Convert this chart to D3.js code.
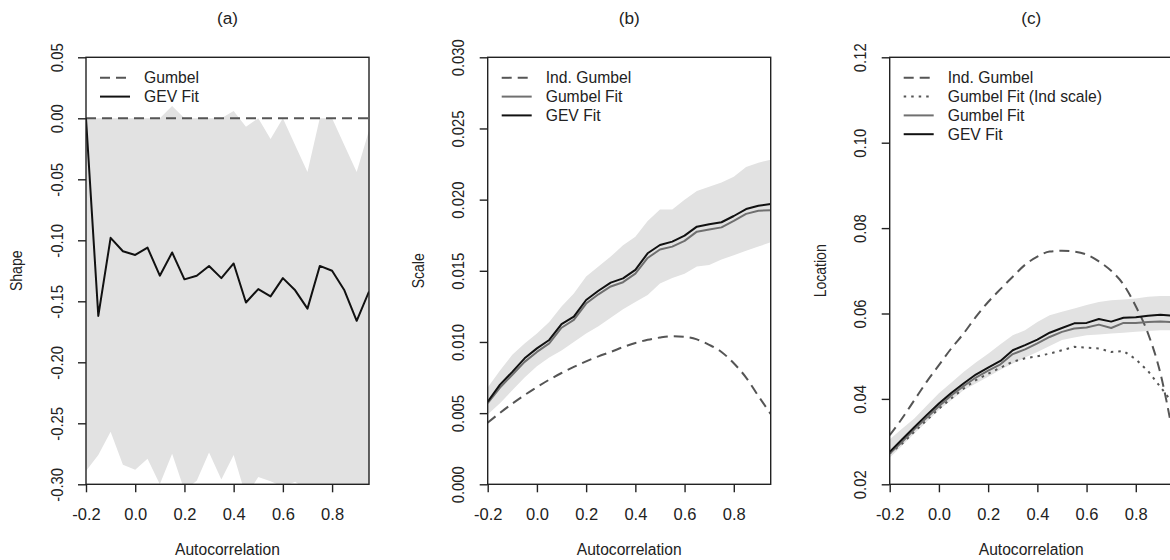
<!DOCTYPE html>
<html>
<head>
<meta charset="utf-8">
<script src="https://cdn.jsdelivr.net/npm/d3@7"></script>
<style>
  html, body { margin: 0; padding: 0; background: #fff; }
  svg { display: block; }
  text { font-family: "Liberation Sans", Arial, Helvetica, sans-serif; fill: #222; }
</style>
</head>
<body>
<svg id="chart" width="1170" height="560"></svg>
<script>
// Autocorrelation grid shared by all three panels
const autocorr = [-0.20, -0.15, -0.10, -0.05, 0.00, 0.05, 0.10, 0.15, 0.20, 0.25, 0.30, 0.35,
                  0.40, 0.45, 0.50, 0.55, 0.60, 0.65, 0.70, 0.75, 0.80, 0.85, 0.90, 0.95];
const xTicks = [-0.2, 0.0, 0.2, 0.4, 0.6, 0.8];

// (a) Shape
const shapeGumbel = 0;
const shapeGEV = [0.000, -0.162, -0.098, -0.109, -0.112, -0.106, -0.129, -0.110, -0.132, -0.129, -0.121, -0.131,
                  -0.119, -0.151, -0.140, -0.146, -0.131, -0.141, -0.156, -0.121, -0.125, -0.141, -0.166, -0.142];
const shapeUpper = [0.000, 0.000, 0.000, 0.000, 0.000, 0.000, 0.000, 0.010, 0.000, 0.000, 0.000, 0.000,
                    0.006, -0.007, 0.000, -0.017, 0.000, -0.022, -0.044, 0.000, 0.000, -0.022, -0.044, -0.010];
const shapeLower = [-0.289, -0.276, -0.257, -0.284, -0.288, -0.279, -0.300, -0.275, -0.305, -0.297, -0.274, -0.296,
                    -0.276, -0.310, -0.294, -0.2975, -0.302, -0.298, -0.305, -0.305, -0.300, -0.305, -0.305, -0.305];
const shapeTicks = [0.05, 0.00, -0.05, -0.10, -0.15, -0.20, -0.25, -0.30];

// (b) Scale
const scaleIndGumbel = [0.00433, 0.00502, 0.00567, 0.00627, 0.00683, 0.00735, 0.00782, 0.00825, 0.00864, 0.00899, 0.00930, 0.00964,
                        0.00993, 0.01015, 0.01031, 0.01040, 0.01036, 0.01018, 0.00980, 0.00930, 0.00850, 0.00750, 0.00620, 0.00494];
const scaleGumbelFit = [0.0057, 0.0068, 0.0077, 0.0086, 0.0093, 0.0099, 0.0110, 0.01155, 0.0127, 0.01335, 0.0139, 0.0142,
                        0.0148, 0.0159, 0.0165, 0.0167, 0.0171, 0.01775, 0.0179, 0.01805, 0.0185, 0.0190, 0.01922, 0.01925];
const scaleGEV = [0.0058, 0.0070, 0.0079, 0.00885, 0.00955, 0.01014, 0.01126, 0.01178, 0.01295, 0.0136, 0.01417, 0.01447,
                  0.01506, 0.01623, 0.01681, 0.01705, 0.01747, 0.0181, 0.01827, 0.01841, 0.01885, 0.01934, 0.01957, 0.01969];
const scaleUpper = [0.0068, 0.0080, 0.0091, 0.0099, 0.0106, 0.0114, 0.0125, 0.0134, 0.0146, 0.0153, 0.0160, 0.0168,
                    0.0174, 0.0185, 0.0193, 0.0193, 0.0200, 0.0206, 0.0209, 0.0212, 0.0216, 0.0223, 0.0226, 0.0228];
const scaleLower = [0.0049, 0.0057, 0.0066, 0.0075, 0.0083, 0.0089, 0.0094, 0.0100, 0.0106, 0.0111, 0.0117, 0.0123,
                    0.0128, 0.0133, 0.0141, 0.0145, 0.0148, 0.0153, 0.0154, 0.0158, 0.0161, 0.0164, 0.0167, 0.0170];
const scaleTicks = [0.000, 0.005, 0.010, 0.015, 0.020, 0.025, 0.030];

// (c) Location
const locIndGumbel = [0.0315, 0.0354, 0.0397, 0.0440, 0.0479, 0.0518, 0.0553, 0.0592, 0.0627, 0.0657, 0.0686, 0.0714,
                      0.0733, 0.0745, 0.0747, 0.0745, 0.0738, 0.0722, 0.0700, 0.0668, 0.0617, 0.0553, 0.0460, 0.0320];
const locGumbelIndScale = [0.0272, 0.0295, 0.0323, 0.0350, 0.0377, 0.0401, 0.0424, 0.0444, 0.0459, 0.0473, 0.0487, 0.0495,
                           0.0500, 0.0506, 0.0514, 0.0522, 0.0520, 0.0518, 0.0510, 0.0512, 0.0493, 0.0465, 0.0428, 0.0390];
const locGumbelFit = [0.0272, 0.0299, 0.0329, 0.0356, 0.0383, 0.0408, 0.0430, 0.0450, 0.0466, 0.0481, 0.0505, 0.0516,
                      0.0530, 0.0545, 0.0557, 0.0565, 0.0567, 0.0574, 0.0566, 0.0578, 0.0578, 0.0580, 0.0581, 0.0580];
const locGEV = [0.0276, 0.0305, 0.0334, 0.0362, 0.0389, 0.0414, 0.0436, 0.0457, 0.0473, 0.0489, 0.0514, 0.0526,
                0.0539, 0.0555, 0.0566, 0.0577, 0.0578, 0.0587, 0.0581, 0.0590, 0.0591, 0.0595, 0.0597, 0.0595];
const locUpper = [0.0305, 0.0330, 0.0354, 0.0384, 0.0413, 0.0438, 0.0463, 0.0485, 0.0506, 0.0528, 0.0549, 0.0561,
                  0.0580, 0.0596, 0.0604, 0.0612, 0.0620, 0.0627, 0.0631, 0.0633, 0.0635, 0.0639, 0.0641, 0.0641];
const locLower = [0.0262, 0.0290, 0.0319, 0.0346, 0.0374, 0.0397, 0.0420, 0.0436, 0.0452, 0.0468, 0.0483, 0.0497,
                  0.0510, 0.0524, 0.0538, 0.0544, 0.0549, 0.0551, 0.0553, 0.0555, 0.0557, 0.0559, 0.0561, 0.0561];
const locTicks = [0.02, 0.04, 0.06, 0.08, 0.10, 0.12];

// Line styles
const STY = {
  indGumbel: { stroke: "#555", width: 2, dash: "10,6" },
  dotted:    { stroke: "#555", width: 2, dash: "2.5,5" },
  gumbelFit: { stroke: "#707070", width: 2, dash: null },
  gev:       { stroke: "#111", width: 2, dash: null }
};
const BAND = "#e2e2e2";

const fmt = d3.formatLocale({ decimal: ".", thousands: ",", grouping: [3], currency: ["", ""], minus: "-" });

const svg = d3.select("#chart");
const TICK_FONT = 16.5, LAB_FONT = 15.6, LEG_FONT = 15.7, TITLE_FONT = 17.2;
const plotTop = 57.3, plotBottom = 484.3, plotW = 283;

const panels = [
  {
    id: "a", title: "(a)", ylab: "Shape", left: 86, domain: [-0.30, 0.05], ticks: shapeTicks, tf: fmt.format(".2f"),
    band: [shapeLower, shapeUpper],
    series: [
      { label: "Gumbel", values: autocorr.map(() => shapeGumbel), sty: STY.indGumbel },
      { label: "GEV Fit", values: shapeGEV, sty: STY.gev }
    ]
  },
  {
    id: "b", title: "(b)", ylab: "Scale", left: 487.7, domain: [0, 0.030], ticks: scaleTicks, tf: fmt.format(".3f"),
    band: [scaleLower, scaleUpper],
    series: [
      { label: "Ind. Gumbel", values: scaleIndGumbel, sty: STY.indGumbel, smooth: true },
      { label: "Gumbel Fit", values: scaleGumbelFit, sty: STY.gumbelFit },
      { label: "GEV Fit", values: scaleGEV, sty: STY.gev }
    ]
  },
  {
    id: "c", title: "(c)", ylab: "Location", left: 889.7, domain: [0.02, 0.12], ticks: locTicks, tf: fmt.format(".2f"),
    band: [locLower, locUpper],
    series: [
      { label: "Ind. Gumbel", values: locIndGumbel, sty: STY.indGumbel, smooth: true },
      { label: "Gumbel Fit (Ind scale)", values: locGumbelIndScale, sty: STY.dotted },
      { label: "Gumbel Fit", values: locGumbelFit, sty: STY.gumbelFit },
      { label: "GEV Fit", values: locGEV, sty: STY.gev }
    ]
  }
];

function applyStyle(sel, sty) {
  sel.attr("fill", "none")
     .attr("stroke", sty.stroke)
     .attr("stroke-width", sty.width)
     .attr("stroke-linejoin", "round")
     .attr("stroke-dasharray", sty.dash);
}

panels.forEach(p => {
  const x = d3.scaleLinear().domain([-0.2, 0.95]).range([p.left, p.left + plotW]);
  const y = d3.scaleLinear().domain(p.domain).range([plotBottom, plotTop]);
  const g = svg.append("g").attr("class", "panel-" + p.id);

  const clipId = "clip-" + p.id;
  g.append("clipPath").attr("id", clipId)
    .append("rect")
    .attr("x", x.range()[0]).attr("y", plotTop)
    .attr("width", plotW).attr("height", plotBottom - plotTop);

  const plot = g.append("g").attr("clip-path", `url(#${clipId})`);

  // Uncertainty band
  const area = d3.area()
    .x((d, i) => x(autocorr[i]))
    .y0((d, i) => y(p.band[0][i]))
    .y1((d, i) => y(p.band[1][i]));
  plot.append("path").datum(autocorr).attr("d", area).attr("fill", BAND).attr("stroke", "none");

  // Series lines
  p.series.forEach(s => {
    const line = d3.line()
      .x((d, i) => x(autocorr[i]))
      .y(d => y(d))
      .curve(s.smooth ? d3.curveMonotoneX : d3.curveLinear);
    plot.append("path").datum(s.values).attr("d", line).call(applyStyle, s.sty);
  });

  // Frame
  g.append("rect")
    .attr("x", x.range()[0]).attr("y", plotTop)
    .attr("width", plotW).attr("height", plotBottom - plotTop)
    .attr("fill", "none").attr("stroke", "#222").attr("stroke-width", 1.4);

  // X axis
  const xAxis = d3.axisBottom(x).tickValues(xTicks).tickFormat(fmt.format(".1f")).tickSize(8);
  const gx = g.append("g").attr("transform", `translate(0,${plotBottom})`).call(xAxis);
  gx.select(".domain").remove();
  gx.selectAll(".tick line").attr("stroke", "#222").attr("stroke-width", 1.4);
  gx.selectAll(".tick text")
    .attr("y", 30).attr("dy", "0.35em")
    .style("font-size", TICK_FONT + "px").attr("fill", "#222");

  // Y axis with rotated labels (slightly condensed along their length)
  const yAxis = d3.axisLeft(y).tickValues(p.ticks).tickFormat(p.tf).tickSize(8);
  const gy = g.append("g").attr("transform", `translate(${p.left},0)`).call(yAxis);
  gy.select(".domain").remove();
  gy.selectAll(".tick line").attr("stroke", "#222").attr("stroke-width", 1.4);
  gy.selectAll(".tick text")
    .attr("x", null).attr("dy", "0.35em")
    .attr("text-anchor", "middle")
    .attr("transform", "translate(-29,0) rotate(-90) scale(0.9,1)")
    .style("font-size", TICK_FONT + "px").attr("fill", "#222");
  g.selectAll("text").attr("font-family", null);

  // Titles
  g.append("text").attr("x", p.left + plotW / 2).attr("y", 18).attr("dy", "0.35em")
    .attr("text-anchor", "middle").style("font-size", TITLE_FONT + "px").text(p.title);
  g.append("text").attr("x", p.left + plotW / 2).attr("y", 550).attr("dy", "0.35em")
    .attr("text-anchor", "middle").style("font-size", LAB_FONT + "px").text("Autocorrelation");
  g.append("text")
    .attr("transform", `translate(${p.left - 69},${(plotTop + plotBottom) / 2}) rotate(-90) scale(0.9,1)`)
    .attr("dy", "0.35em").attr("text-anchor", "middle").style("font-size", LAB_FONT + "px").text(p.ylab);

  // Legend
  const leg = g.append("g");
  p.series.forEach((s, i) => {
    const ly = plotTop + 20.5 + i * 18.8;
    leg.append("line")
      .attr("x1", p.left + 14).attr("x2", p.left + 44)
      .attr("y1", ly).attr("y2", ly)
      .call(applyStyle, s.sty);
    leg.append("text").attr("x", p.left + 58).attr("y", ly).attr("dy", "0.35em")
      .style("font-size", LEG_FONT + "px").text(s.label);
  });
});
</script>
</body>
</html>
